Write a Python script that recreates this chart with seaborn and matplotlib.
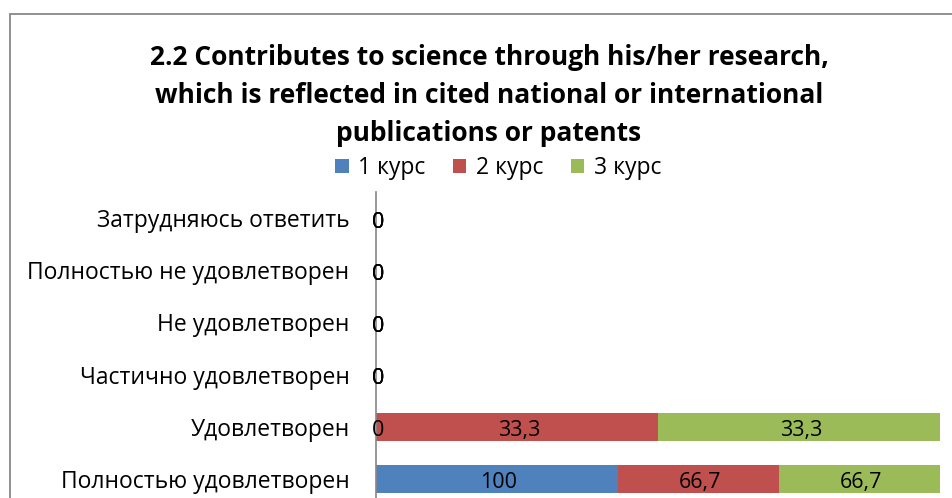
import numpy as np
import pandas as pd
import matplotlib
matplotlib.use("Agg")
import matplotlib.pyplot as plt
from matplotlib.patches import Rectangle, Patch
from matplotlib.transforms import offset_copy
import seaborn as sns

# ── data ──────────────────────────────────────────────────────────────────────
categories = ["Затрудняюсь ответить", "Полностью не удовлетворен", "Не удовлетворен",
              "Частично удовлетворен", "Удовлетворен", "Полностью удовлетворен"]
series = ["1 курс", "2 курс", "3 курс"]
kurs1 = [0, 0, 0, 0, 0, 100]
kurs2 = [0, 0, 0, 0, 33.3, 66.7]
kurs3 = [0, 0, 0, 0, 33.3, 66.7]
COLORS = ["#4F81BD", "#C0504D", "#9BBB59"]

TITLE = ("2.2 Contributes to science through his/her research,\n"
         "which is reflected in cited national or international\n"
         "publications or patents")

# ── style ─────────────────────────────────────────────────────────────────────
sns.set_style("white")
plt.rcParams["font.family"] = ["Open Sans", "DejaVu Sans"]
plt.rcParams["text.color"] = "black"
plt.rcParams["ytick.color"] = "black"

df = pd.DataFrame({"1 курс": kurs1, "2 курс": kurs2, "3 курс": kurs3}, index=categories)
totals = df.sum(axis=1).replace(0, np.nan)
shares = df.div(totals, axis=0).fillna(0) * 100   # 100% stacked
cum = shares.cumsum(axis=1)

W, H = 953, 498
fig = plt.figure(figsize=(W / 100, H / 100), dpi=100)
ax = fig.add_axes([376 / W, 1 - 505 / H, 564 / W, 313 / H])

# stacked bars: draw cumulative totals, longest first
for s, c in reversed(list(zip(series, COLORS))):
    sns.barplot(x=cum[s].values, y=categories, orient="h", color=c,
                saturation=1, width=0.54, linewidth=0, ax=ax)

# data labels (nudged a little down / right like the original)
lbl_tr = offset_copy(ax.transData, fig=fig, x=2, y=-4, units="dots")
for i, cat in enumerate(categories):
    for s in series:
        left = cum.loc[cat, s] - shares.loc[cat, s]
        xc = left + shares.loc[cat, s] / 2
        val = df.loc[cat, s]
        ax.text(xc, i, f"{val:g}".replace(".", ","), ha="center", va="center",
                fontsize=15.5, color="black", transform=lbl_tr)

ax.set_xlim(0, 100)
ax.set_ylim(5.5, -0.5)
ax.set_xlabel("")
ax.set_ylabel("")
ax.set_xticks([])
ax.tick_params(axis="y", length=0, pad=19, labelsize=16.5, labelcolor="black")
for sp in ["top", "right", "bottom"]:
    ax.spines[sp].set_visible(False)
ax.spines["left"].set_color("#878787")
ax.spines["left"].set_linewidth(1.2)

# title + legend
fig.text(489 / W, 1 - 44 / H, TITLE, ha="center", va="top", fontsize=19,
         fontweight="bold", linespacing=1.53)
handles = [Patch(facecolor=c, edgecolor="none", label=s) for s, c in zip(series, COLORS)]
fig.legend(handles=handles, loc="center", bbox_to_anchor=(498 / W, 1 - 168 / H),
           ncol=3, frameon=False, fontsize=16.5, handlelength=0.6, handleheight=0.6,
           handletextpad=0.4, columnspacing=1.2, borderpad=0)

# chart frame (cropped at right and bottom)
fig.add_artist(Rectangle((10 / W, -0.2), 2, 1 - 14 / H + 0.2, transform=fig.transFigure,
                         fill=False, edgecolor="#878787", linewidth=1.3))

fig.savefig("out.png", dpi=100)
